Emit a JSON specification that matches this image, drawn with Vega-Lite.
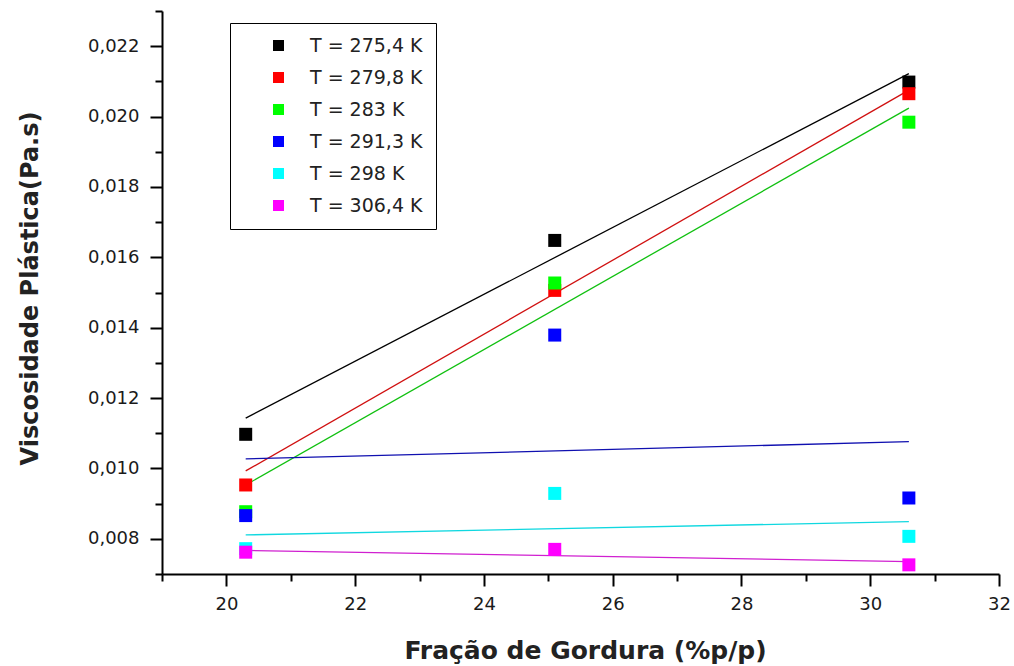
{
  "$schema": "https://vega.github.io/schema/vega-lite/v6.json",
  "width": 837,
  "height": 563,
  "autosize": "none",
  "padding": {"left": 162, "top": 11, "right": 15, "bottom": 92},
  "background": "white",
  "config": {
    "view": {"stroke": null},
    "font": "DejaVu Sans"
  },
  "datasets": {
    "pts": [
      {"fracao": 20.3, "visc": 0.01097, "serie": "T = 275,4 K"},
      {"fracao": 25.1, "visc": 0.01648, "serie": "T = 275,4 K"},
      {"fracao": 30.6, "visc": 0.02098, "serie": "T = 275,4 K"},
      {"fracao": 20.3, "visc": 0.00953, "serie": "T = 279,8 K"},
      {"fracao": 25.1, "visc": 0.01506, "serie": "T = 279,8 K"},
      {"fracao": 30.6, "visc": 0.02065, "serie": "T = 279,8 K"},
      {"fracao": 20.3, "visc": 0.00877, "serie": "T = 283 K"},
      {"fracao": 25.1, "visc": 0.01527, "serie": "T = 283 K"},
      {"fracao": 30.6, "visc": 0.01984, "serie": "T = 283 K"},
      {"fracao": 20.3, "visc": 0.00866, "serie": "T = 291,3 K"},
      {"fracao": 25.1, "visc": 0.01379, "serie": "T = 291,3 K"},
      {"fracao": 30.6, "visc": 0.00916, "serie": "T = 291,3 K"},
      {"fracao": 20.3, "visc": 0.00772, "serie": "T = 298 K"},
      {"fracao": 25.1, "visc": 0.00929, "serie": "T = 298 K"},
      {"fracao": 30.6, "visc": 0.00807, "serie": "T = 298 K"},
      {"fracao": 20.3, "visc": 0.00762, "serie": "T = 306,4 K"},
      {"fracao": 25.1, "visc": 0.0077, "serie": "T = 306,4 K"},
      {"fracao": 30.6, "visc": 0.00726, "serie": "T = 306,4 K"}
    ],
    "fits": [
      {"fracao": 20.3, "visc": 0.01143, "serie": "T = 275,4 K"},
      {"fracao": 30.6, "visc": 0.02122, "serie": "T = 275,4 K"},
      {"fracao": 20.3, "visc": 0.00993, "serie": "T = 279,8 K"},
      {"fracao": 30.6, "visc": 0.02075, "serie": "T = 279,8 K"},
      {"fracao": 20.3, "visc": 0.00953, "serie": "T = 283 K"},
      {"fracao": 30.6, "visc": 0.02024, "serie": "T = 283 K"},
      {"fracao": 20.3, "visc": 0.01027, "serie": "T = 291,3 K"},
      {"fracao": 30.6, "visc": 0.01076, "serie": "T = 291,3 K"},
      {"fracao": 20.3, "visc": 0.00811, "serie": "T = 298 K"},
      {"fracao": 30.6, "visc": 0.00849, "serie": "T = 298 K"},
      {"fracao": 20.3, "visc": 0.00767, "serie": "T = 306,4 K"},
      {"fracao": 30.6, "visc": 0.00735, "serie": "T = 306,4 K"}
    ]
  },
  "encoding": {
    "x": {
      "field": "fracao",
      "type": "quantitative",
      "scale": {"domain": [19, 32], "nice": false, "zero": false},
      "axis": {
        "title": "Fração de Gordura (%p/p)",
        "values": [19, 20, 21, 22, 23, 24, 25, 26, 27, 28, 29, 30, 31, 32],
        "labelExpr": "datum.value % 2 == 0 ? format(datum.value, 'd') : ''",
        "grid": false,
        "domainColor": "#000000",
        "domainWidth": 2,
        "tickColor": "#000000",
        "tickWidth": 2,
        "tickSize": {"condition": {"test": "datum.value % 2 == 0", "value": 12}, "value": 7},
        "labelPadding": 9,
        "labelFont": "DejaVu Sans",
        "labelFontSize": 18,
        "labelColor": "#1a1a1a",
        "labelFlush": false,
        "labelOverlap": false,
        "titleFont": "DejaVu Sans",
        "titleFontSize": 25,
        "titleFontWeight": "bold",
        "titleColor": "#222222",
        "titleX": 423,
        "titleY": 76,
        "titleBaseline": "middle",
        "titleAlign": "center"
      }
    },
    "y": {
      "field": "visc",
      "type": "quantitative",
      "scale": {"domain": [0.007, 0.023], "nice": false, "zero": false},
      "axis": {
        "title": "Viscosidade Plástica(Pa.s)",
        "values": [0.007, 0.008, 0.009, 0.010, 0.011, 0.012, 0.013, 0.014, 0.015, 0.016, 0.017, 0.018, 0.019, 0.020, 0.021, 0.022, 0.023],
        "labelExpr": "round(datum.value * 1000) % 2 == 0 ? replace(format(datum.value, '.3f'), '.', ',') : ''",
        "grid": false,
        "domainColor": "#000000",
        "domainWidth": 2,
        "tickColor": "#000000",
        "tickWidth": 2,
        "tickSize": {"condition": {"test": "round(datum.value * 1000) % 2 == 0", "value": 12}, "value": 7},
        "labelPadding": 11,
        "labelFont": "DejaVu Sans",
        "labelFontSize": 18,
        "labelColor": "#1a1a1a",
        "labelFlush": false,
        "labelOverlap": false,
        "titleFont": "DejaVu Sans",
        "titleFontSize": 24,
        "titleFontWeight": "bold",
        "titleColor": "#222222",
        "titleAngle": -90,
        "titleX": -132,
        "titleY": 277,
        "titleBaseline": "middle",
        "titleAlign": "center"
      }
    }
  },
  "layer": [
    {
      "data": {"name": "fits"},
      "mark": {"type": "line", "strokeWidth": 1.3},
      "encoding": {
        "color": {
          "field": "serie",
          "type": "nominal",
          "scale": {
            "domain": ["T = 275,4 K", "T = 279,8 K", "T = 283 K", "T = 291,3 K", "T = 298 K", "T = 306,4 K"],
            "range": ["#000000", "#d01010", "#10c010", "#1010b0", "#10d8e0", "#d020d0"]
          },
          "legend": null
        },
        "detail": {"field": "serie"}
      }
    },
    {
      "data": {"name": "pts"},
      "mark": {"type": "square", "size": 169, "filled": true, "opacity": 1},
      "encoding": {
        "color": {
          "field": "serie",
          "type": "nominal",
          "scale": {
            "domain": ["T = 275,4 K", "T = 279,8 K", "T = 283 K", "T = 291,3 K", "T = 298 K", "T = 306,4 K"],
            "range": ["#000000", "#ff0000", "#00ff00", "#0000ff", "#00ffff", "#ff00ff"]
          },
          "legend": {
            "title": null,
            "orient": "none",
            "legendX": 68,
            "legendY": 12,
            "strokeColor": "#000000",
            "fillColor": "white",
            "padding": 13,
            "symbolType": "square",
            "symbolSize": 121,
            "symbolOffset": 26,
            "symbolStrokeWidth": 0,
            "labelOffset": 22,
            "labelFont": "DejaVu Sans",
            "labelFontSize": 19,
            "labelColor": "#222222",
            "rowPadding": 12,
            "encode": {"legend": {"update": {"strokeWidth": {"value": 1.5}}}}
          }
        }
      }
    }
  ],
  "resolve": {"scale": {"color": "independent"}}
}
